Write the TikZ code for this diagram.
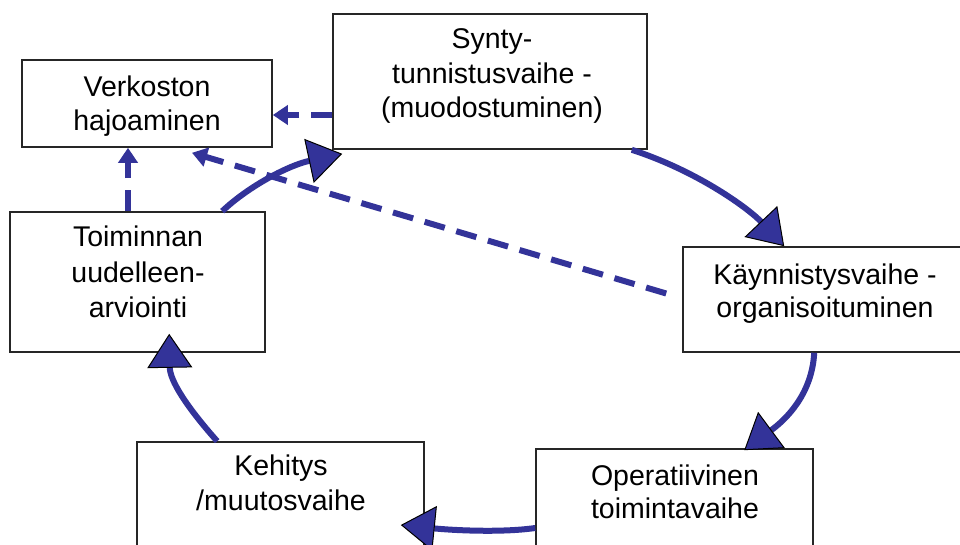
\documentclass[tikz,border=0pt]{standalone}
\usepackage{fontspec}
\setmainfont{Liberation Sans}
\usetikzlibrary{arrows.meta,calc}
\definecolor{cycleblue}{RGB}{51,51,153}
\begin{document}
\begin{tikzpicture}[x=1pt,y=-1pt,
  box/.style={draw=black!85,line width=1.6pt,fill=white,inner sep=0pt},
  lbl/.style={anchor=base,inner sep=0pt,font=\fontsize{28.5}{34}\selectfont},
  cyc/.style={draw=cycleblue,line width=6pt,-{Triangle[length=34pt,width=45pt,fill=cycleblue,color=black,line width=1pt]}},
  dsh/.style={draw=cycleblue,line width=6pt,dash pattern=on 21pt off 12pt,-{Triangle[length=15pt,width=19pt,fill=cycleblue,color=cycleblue]}}
]
\clip (0,0) rectangle (960,545);
\fill[white] (0,0) rectangle (960,545);

% boxes
\node[box,minimum width=250pt,minimum height=87pt] (verk) at (147,103.5) {};
\node[box,minimum width=314pt,minimum height=135pt] (synty) at (490,81.5) {};
\node[box,minimum width=292pt,minimum height=105pt] (kay) at (829,299.5) {};
\node[box,minimum width=255pt,minimum height=140pt] (toim) at (137.5,282) {};
\node[box,minimum width=287pt,minimum height=138pt] (keh) at (280.5,511) {};
\node[box,minimum width=277pt,minimum height=136pt] (oper) at (674.5,517) {};

% texts
\node[lbl] (verk1) at (147,97) {Verkoston};
\node[lbl] (verk2) at (147,131) {hajoaminen};
\node[lbl] (syn1) at (492,49) {Synty-};
\node[lbl] (syn2) at (492,84) {tunnistusvaihe -};
\node[lbl] (syn3) at (492,118) {(muodostuminen)};
\node[lbl] (kay1) at (825,284) {Käynnistysvaihe -};
\node[lbl] (kay2) at (825,317) {organisoituminen};
\node[lbl] (toim1) at (138,247) {Toiminnan};
\node[lbl] (toim2) at (138,282) {uudelleen-};
\node[lbl] (toim3) at (138,317) {arviointi};
\node[lbl] (keh1) at (281,475) {Kehitys};
\node[lbl] (keh2) at (281,510) {/muutosvaihe};
\node[lbl] (oper1) at (675,485) {Operatiivinen};
\node[lbl] (oper2) at (675,518) {toimintavaihe};

% dashed connectors
\draw[dsh] (synty.west |- 0,115) -- (verk.east |- 0,115);
\draw[dsh] (toim.north -| 128,0) -- (verk.south -| 128,0);
\draw[dsh] ($(kay.west)+(-16,-6)$) -- ($(verk.south)+(45,5)$);

% cycle arcs
\draw[cyc] ($(synty.south east)+(-16,0)$) .. controls (700,172) and (750,210) .. ($(kay.north west)+(102,0)$);
\draw[cyc] ($(kay.south west)+(132,0)$) .. controls (812,395) and (785,420) .. ($(oper.north west)+(209,2)$);
\draw[cyc] ($(oper.west)+(0,11)$) .. controls (500,533) and (450,530) .. ($(keh.east)+(-24,14)$);
\draw[cyc] ($(keh.north west)+(81,0)$) .. controls (185,405) and (170,380) .. ($(toim.south west)+(160,-19)$);
\draw[cyc] ($(toim.north west)+(213,0)$) .. controls (250,185) and (290,165) .. ($(synty.south west)+(10,4)$);
\end{tikzpicture}
\end{document}
